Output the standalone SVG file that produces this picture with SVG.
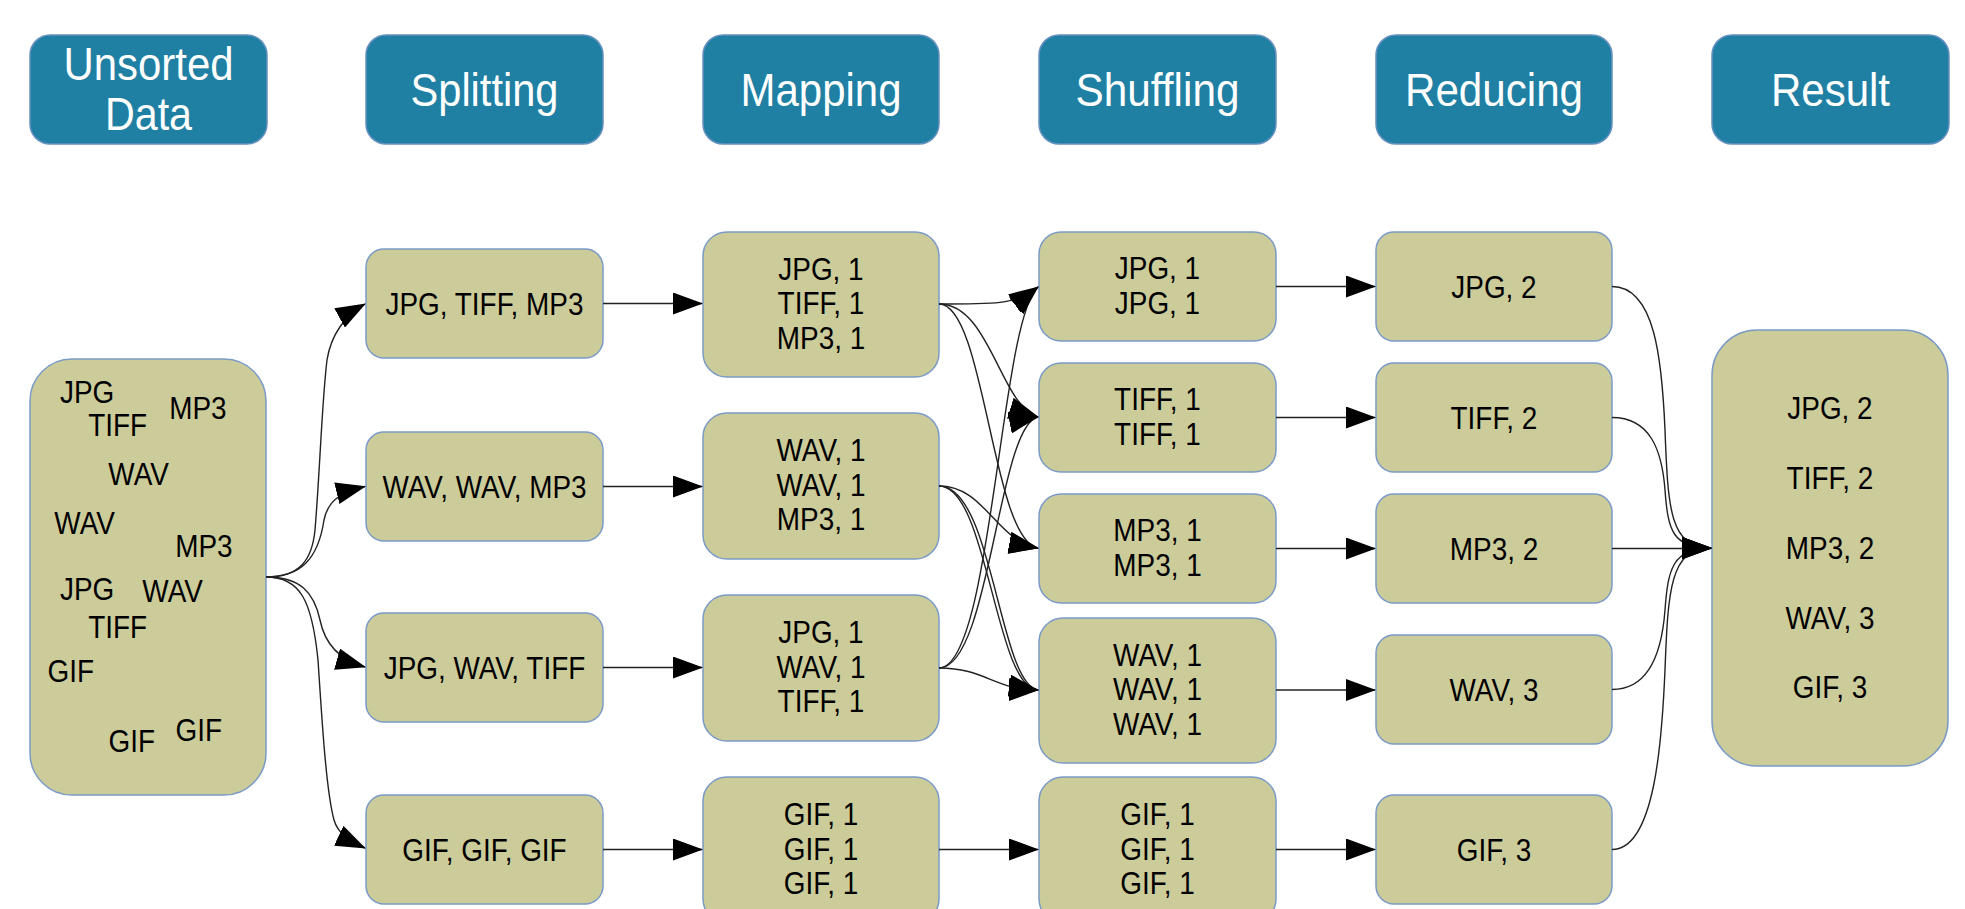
<svg xmlns="http://www.w3.org/2000/svg" width="1965" height="909" viewBox="0 0 1965 909">
<defs>
<style>
.hdr rect{fill:#2080a3;stroke:#6690bf;stroke-width:1.5}
.hdr text{fill:#ffffff;font-family:"Liberation Sans",Arial,sans-serif;font-size:46px;text-anchor:middle}
.nd rect{fill:#cccc9a;stroke:#7b9bc6;stroke-width:1.5}
.nd text{fill:#000;font-family:"Liberation Sans",Arial,sans-serif;font-size:31px;text-anchor:middle;transform-box:fill-box;transform-origin:50% 50%;transform:scaleX(0.9)}
.nd text.f{text-anchor:start}
#connectors path{fill:none;stroke:#222;stroke-width:1.4;marker-end:url(#arr)}
</style>
<marker id="arr" viewBox="0 0 30 22" markerWidth="30" markerHeight="22" refX="29" refY="11" orient="auto" markerUnits="userSpaceOnUse">
<path d="M0,0 L30,11 L0,22 z" fill="#000"/>
</marker>
</defs>
<rect width="1965" height="909" fill="#ffffff"/>

<!-- headers -->
<g id="h-unsorted" class="hdr"><rect x="30" y="35" width="237" height="109" rx="20"/><text x="148.5" y="80" textLength="170" lengthAdjust="spacingAndGlyphs">Unsorted</text><text x="148.5" y="130" textLength="87" lengthAdjust="spacingAndGlyphs">Data</text></g>
<g id="h-splitting" class="hdr"><rect x="366" y="35" width="237" height="109" rx="20"/><text x="484.5" y="106" textLength="148" lengthAdjust="spacingAndGlyphs">Splitting</text></g>
<g id="h-mapping" class="hdr"><rect x="703" y="35" width="236" height="109" rx="20"/><text x="821" y="106" textLength="161" lengthAdjust="spacingAndGlyphs">Mapping</text></g>
<g id="h-shuffling" class="hdr"><rect x="1039" y="35" width="237" height="109" rx="20"/><text x="1157.5" y="106" textLength="164" lengthAdjust="spacingAndGlyphs">Shuffling</text></g>
<g id="h-reducing" class="hdr"><rect x="1376" y="35" width="236" height="109" rx="20"/><text x="1494" y="106" textLength="178" lengthAdjust="spacingAndGlyphs">Reducing</text></g>
<g id="h-result" class="hdr"><rect x="1712" y="35" width="237" height="109" rx="20"/><text x="1830.5" y="106" textLength="119" lengthAdjust="spacingAndGlyphs">Result</text></g>

<!-- unsorted data -->
<g id="n-unsorted" class="nd"><rect x="30" y="359" width="236" height="436" rx="42"/>
<text class="f" x="57" y="403">JPG</text>
<text class="f" x="85" y="436">TIFF</text>
<text class="f" x="166" y="419">MP3</text>
<text class="f" x="105" y="485">WAV</text>
<text class="f" x="51" y="534">WAV</text>
<text class="f" x="172" y="557">MP3</text>
<text class="f" x="57" y="600">JPG</text>
<text class="f" x="139" y="602">WAV</text>
<text class="f" x="85" y="638">TIFF</text>
<text class="f" x="45" y="682">GIF</text>
<text class="f" x="106" y="752">GIF</text>
<text class="f" x="173" y="741">GIF</text>
</g>

<!-- splitting -->
<g id="n-split1" class="nd"><rect x="366" y="249" width="237" height="109" rx="18"/><text x="484.5" y="315">JPG, TIFF, MP3</text></g>
<g id="n-split2" class="nd"><rect x="366" y="432" width="237" height="109" rx="18"/><text x="484.5" y="498">WAV, WAV, MP3</text></g>
<g id="n-split3" class="nd"><rect x="366" y="613" width="237" height="109" rx="18"/><text x="484.5" y="679">JPG, WAV, TIFF</text></g>
<g id="n-split4" class="nd"><rect x="366" y="795" width="237" height="109" rx="18"/><text x="484.5" y="861">GIF, GIF, GIF</text></g>

<!-- mapping -->
<g id="n-map1" class="nd"><rect x="703" y="232" width="236" height="145" rx="24"/><text x="821" y="280">JPG, 1</text><text x="821" y="314.5">TIFF, 1</text><text x="821" y="349">MP3, 1</text></g>
<g id="n-map2" class="nd"><rect x="703" y="413" width="236" height="146" rx="24"/><text x="821" y="461.5">WAV, 1</text><text x="821" y="496">WAV, 1</text><text x="821" y="530.5">MP3, 1</text></g>
<g id="n-map3" class="nd"><rect x="703" y="595" width="236" height="146" rx="24"/><text x="821" y="643.5">JPG, 1</text><text x="821" y="678">WAV, 1</text><text x="821" y="712.5">TIFF, 1</text></g>
<g id="n-map4" class="nd"><rect x="703" y="777" width="236" height="146" rx="24"/><text x="821" y="825.5">GIF, 1</text><text x="821" y="860">GIF, 1</text><text x="821" y="894.5">GIF, 1</text></g>

<!-- shuffling -->
<g id="n-sh1" class="nd"><rect x="1039" y="232" width="237" height="109" rx="22"/><text x="1157.5" y="279">JPG, 1</text><text x="1157.5" y="314">JPG, 1</text></g>
<g id="n-sh2" class="nd"><rect x="1039" y="363" width="237" height="109" rx="22"/><text x="1157.5" y="410">TIFF, 1</text><text x="1157.5" y="445">TIFF, 1</text></g>
<g id="n-sh3" class="nd"><rect x="1039" y="494" width="237" height="109" rx="22"/><text x="1157.5" y="541">MP3, 1</text><text x="1157.5" y="576">MP3, 1</text></g>
<g id="n-sh4" class="nd"><rect x="1039" y="618" width="237" height="145" rx="24"/><text x="1157.5" y="666">WAV, 1</text><text x="1157.5" y="700.5">WAV, 1</text><text x="1157.5" y="735">WAV, 1</text></g>
<g id="n-sh5" class="nd"><rect x="1039" y="777" width="237" height="146" rx="24"/><text x="1157.5" y="825.5">GIF, 1</text><text x="1157.5" y="860">GIF, 1</text><text x="1157.5" y="894.5">GIF, 1</text></g>

<!-- reducing -->
<g id="n-red1" class="nd"><rect x="1376" y="232" width="236" height="109" rx="18"/><text x="1494" y="298">JPG, 2</text></g>
<g id="n-red2" class="nd"><rect x="1376" y="363" width="236" height="109" rx="18"/><text x="1494" y="429">TIFF, 2</text></g>
<g id="n-red3" class="nd"><rect x="1376" y="494" width="236" height="109" rx="18"/><text x="1494" y="560">MP3, 2</text></g>
<g id="n-red4" class="nd"><rect x="1376" y="635" width="236" height="109" rx="18"/><text x="1494" y="701">WAV, 3</text></g>
<g id="n-red5" class="nd"><rect x="1376" y="795" width="236" height="109" rx="18"/><text x="1494" y="861">GIF, 3</text></g>

<!-- result -->
<g id="n-result" class="nd"><rect x="1712" y="330" width="236" height="436" rx="45"/>
<text x="1830" y="419">JPG, 2</text>
<text x="1830" y="489">TIFF, 2</text>
<text x="1830" y="559">MP3, 2</text>
<text x="1830" y="629">WAV, 3</text>
<text x="1830" y="698">GIF, 3</text>
</g>

<g id="connectors">
<path d="M266,577 C300,577 312,560 315,530 C320,470 322,400 327,360 C331,335 345,315 365,304"/>
<path d="M266,577 C300,577 318,560 324,520 C328,500 342,492 365,486.5"/>
<path d="M266,577 C300,577 314,592 320,620 C325,645 340,660 365,667"/>
<path d="M266,577 C300,577 312,600 318,660 C322,720 326,790 334,820 C338,834 350,841 365,848"/>
<path d="M603,303.5 H702"/>
<path d="M603,486.5 H702"/>
<path d="M603,667.5 H702"/>
<path d="M603,849.5 H702"/>
<path d="M939,304 C1000,304 1012,305 1038,287"/>
<path d="M939,304 C990,304 1000,405 1038,417"/>
<path d="M939,304 C985,304 992,540 1038,548"/>
<path d="M939,486 C985,486 995,540 1038,548"/>
<path d="M939,486 C988,486 995,688 1038,690"/>
<path d="M939,486 C993,486 999,684 1038,690"/>
<path d="M939,668 C992,668 1000,320 1038,287"/>
<path d="M939,668 C990,668 998,425 1038,417"/>
<path d="M939,668 C985,668 995,690 1038,690"/>
<path d="M939,849.5 H1038"/>
<path d="M1276,286.5 H1375"/>
<path d="M1276,417.5 H1375"/>
<path d="M1276,548.5 H1375"/>
<path d="M1276,690 H1375"/>
<path d="M1276,849.5 H1375"/>
<path d="M1612,286.5 C1655,286.5 1662,360 1665,430 C1668,510 1670,548 1711,548"/>
<path d="M1612,417.5 C1650,417.5 1662,450 1665,490 C1668,530 1672,548 1711,548"/>
<path d="M1612,548.5 H1711"/>
<path d="M1612,689.5 C1650,689.5 1662,650 1665,610 C1668,570 1672,548 1711,548"/>
<path d="M1612,849.5 C1655,849.5 1662,740 1665,670 C1668,590 1670,548 1711,548"/>
</g>
</svg>
